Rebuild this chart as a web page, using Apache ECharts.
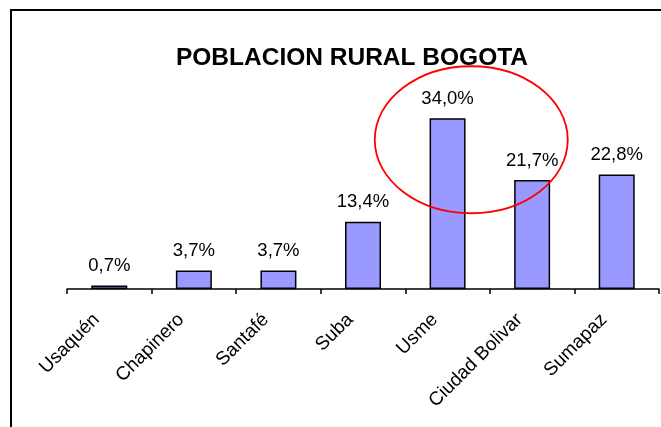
<!DOCTYPE html>
<html>
<head>
<meta charset="utf-8">
<style>
  html, body { margin: 0; padding: 0; background: #ffffff; }
  #chart { width: 661px; height: 427px; }
</style>
<script src="https://cdn.jsdelivr.net/npm/echarts@6/dist/echarts.min.js"></script>
</head>
<body>
<div id="chart"></div>
<script>
// Rural population share by locality (percent)
const localidades = ['Usaquén', 'Chapinero', 'Santafé', 'Suba', 'Usme', 'Ciudad Bolivar', 'Sumapaz'];
const poblacionRural = [0.7, 3.7, 3.7, 13.4, 34.0, 21.7, 22.8];

const FONT = '"Liberation Sans", Arial, sans-serif';

const chart = echarts.init(document.getElementById('chart'));

chart.setOption({
  backgroundColor: '#ffffff',
  animation: false,
  title: {
    text: 'POBLACION RURAL BOGOTA',
    left: 351,
    textAlign: 'center',
    top: 41,
    textStyle: { fontFamily: FONT, fontSize: 24.5, fontWeight: 'bold', color: '#000000' }
  },
  grid: { left: 67, right: 2, top: 88, bottom: 138 },
  xAxis: {
    type: 'category',
    data: localidades,
    boundaryGap: true,
    axisLine: { show: true, lineStyle: { color: '#000000', width: 1.5 } },
    axisTick: { show: true, interval: 0, length: 5, lineStyle: { color: '#000000', width: 1.5 } },
    axisLabel: {
      interval: 0,
      rotate: 45,
      margin: 15,
      padding: [0, 18, 0, 0],
      fontFamily: FONT,
      fontSize: 19,
      color: '#000000'
    }
  },
  yAxis: {
    type: 'value',
    min: 0,
    max: 40,
    show: false,
    splitLine: { show: false }
  },
  series: [{
    type: 'bar',
    data: poblacionRural,
    barWidth: 36,
    itemStyle: { color: '#9999ff', borderColor: '#000000', borderWidth: 1.5 },
    label: {
      show: true,
      position: 'top',
      distance: 10,
      fontFamily: FONT,
      fontSize: 18.5,
      color: '#000000',
      formatter: p => p.value.toFixed(1).replace('.', ',') + '%'
    }
  }]
});

// Highlight ring around the Usme / Ciudad Bolivar bars, placed between their category centres
const pUsme = chart.convertToPixel({ xAxisIndex: 0, yAxisIndex: 0 }, [4, 29.7]);
const pBolivar = chart.convertToPixel({ xAxisIndex: 0, yAxisIndex: 0 }, [5, 29.7]);
const cx = pUsme[0] + 0.28 * (pBolivar[0] - pUsme[0]);
const cy = pUsme[1];

chart.setOption({
  title: { left: 347 },
  graphic: [
    {
      type: 'rect',
      shape: { x: 11, y: 10, width: 720, height: 520 },
      style: { fill: 'none', stroke: '#000000', lineWidth: 2 },
      silent: true
    },
    {
      type: 'ellipse',
      shape: { cx: cx, cy: cy, rx: 96.5, ry: 73.5 },
      style: { fill: 'none', stroke: '#ff0000', lineWidth: 1.8 },
      silent: true,
      z: 10
    }
  ]
});
</script>
</body>
</html>
